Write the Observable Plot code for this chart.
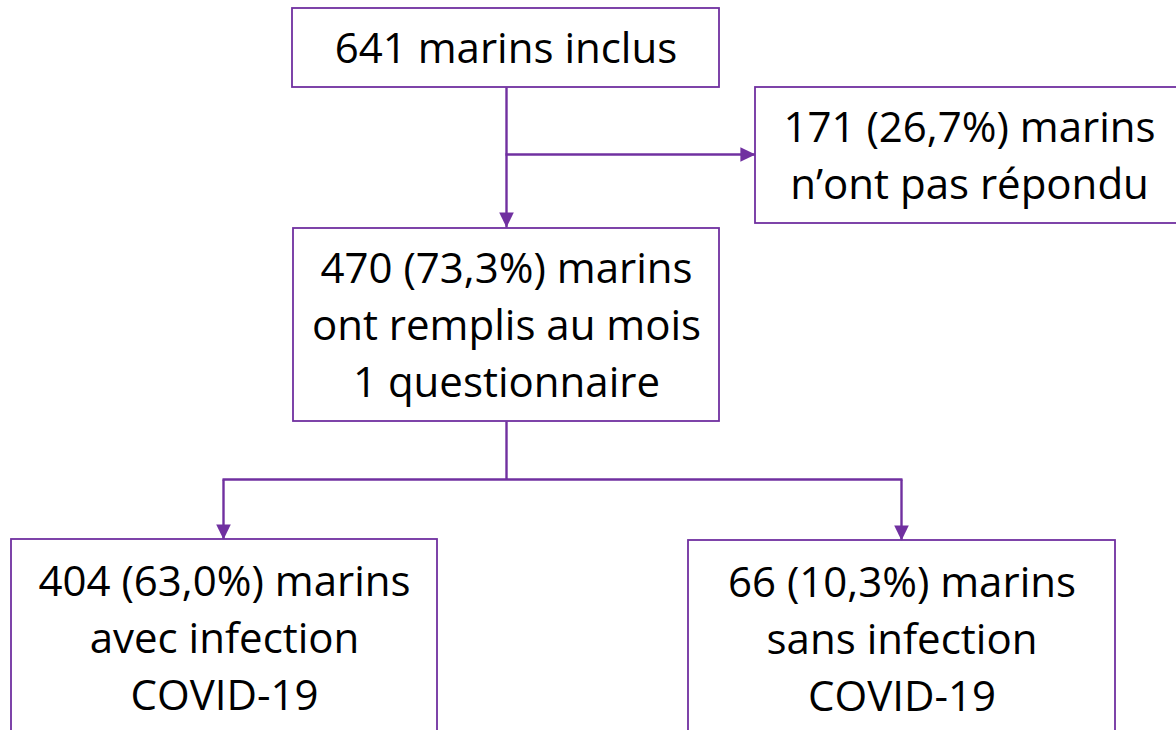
<!DOCTYPE html>
<html>
<head>
<meta charset="utf-8">
<script src="https://cdn.jsdelivr.net/npm/d3@7"></script>
<script src="https://cdn.jsdelivr.net/npm/@observablehq/plot@0.6"></script>
<style>
  html, body { margin: 0; padding: 0; background: #fff; }
  #chart { width: 1176px; height: 730px; overflow: hidden; }
</style>
</head>
<body>
<div id="chart"></div>
<script>
const nodeIds  = ["inclus", "nonrep", "rempli", "avec", "sans"];
const counts   = [641, 171, 470, 404, 66];
const percents = [null, 26.7, 73.3, 63.0, 10.3];
const suffixes = [
  "marins inclus",
  "marins\nn’ont pas répondu",
  "marins\nont remplis au mois\n1 questionnaire",
  "marins\navec infection\nCOVID-19",
  "marins\nsans infection\nCOVID-19"
];

// ---- layout (chart space, 1176 x 730, y downward) ----
const boxX1 = [292, 755, 293, 11, 688];
const boxX2 = [719, 1183, 719, 437, 1115];
const boxY1 = [8, 87, 228, 539, 540];
const boxY2 = [87, 223, 421, 735, 736];

// connector segments: [from x, from y, to x, to y]
const segX1 = [506, 505, 506, 222, 223, 901];
const segY1 = [87, 154, 421, 479, 479, 479];
const segX2 = [506, 755, 506, 902, 223, 901];
const segY2 = [227, 154, 479, 479, 539, 540];
// arrow tips
const tipX   = [506, 755, 223, 901];
const tipY   = [227, 154, 539, 540];
const tipRot = [0, -90, 0, 0];

const purple = "#7030A0";
const fmtPct = p => p.toFixed(1).replace(".", ",");

const nodes = nodeIds.map((id, i) => ({
  id,
  x1: boxX1[i], x2: boxX2[i], y1: boxY1[i], y2: boxY2[i],
  cx: (boxX1[i] + boxX2[i]) / 2,
  cy: (boxY1[i] + boxY2[i]) / 2,
  label: percents[i] == null
    ? `${counts[i]} ${suffixes[i]}`
    : `${counts[i]} (${fmtPct(percents[i])}%) ${suffixes[i]}`
}));
const segs = segX1.map((_, i) => ({x1: segX1[i], y1: segY1[i], x2: segX2[i], y2: segY2[i]}));
const tips = tipX.map((_, i) => ({x: tipX[i], y: tipY[i], rot: tipRot[i]}));

// filled arrowhead: tip at origin, pointing down
const arrowHead = {
  draw(ctx, size) {
    const r = Math.sqrt(size / Math.PI);
    ctx.moveTo(0, 0);
    ctx.lineTo(-1.35 * r, -2.8 * r);
    ctx.lineTo(1.35 * r, -2.8 * r);
    ctx.closePath();
  }
};

const chart = Plot.plot({
  width: 1176,
  height: 730,
  margin: 0,
  x: {domain: [0, 1176], range: [0, 1176], axis: null},
  y: {domain: [0, 730], range: [0, 730], axis: null},
  style: {background: "#fff", fontFamily: "'Open Sans', sans-serif"},
  marks: [
    Plot.link(segs, {x1: "x1", y1: "y1", x2: "x2", y2: "y2", stroke: purple, strokeWidth: 2.4}),
    Plot.rect(nodes, {x1: "x1", x2: "x2", y1: "y1", y2: "y2", fill: "#fff", stroke: purple, strokeWidth: 1.8}),
    Plot.dot(tips, {x: "x", y: "y", r: 5.4, symbol: arrowHead, rotate: "rot", fill: purple, stroke: "none"}),
    Plot.text(nodes, {x: "cx", y: "cy", text: "label", fontSize: 42, lineHeight: 1.36, dy: -3,
      fontFamily: "'Open Sans', sans-serif", fill: "#000", textAnchor: "middle", lineAnchor: "middle"})
  ]
});
document.getElementById("chart").appendChild(chart);
</script>
</body>
</html>
